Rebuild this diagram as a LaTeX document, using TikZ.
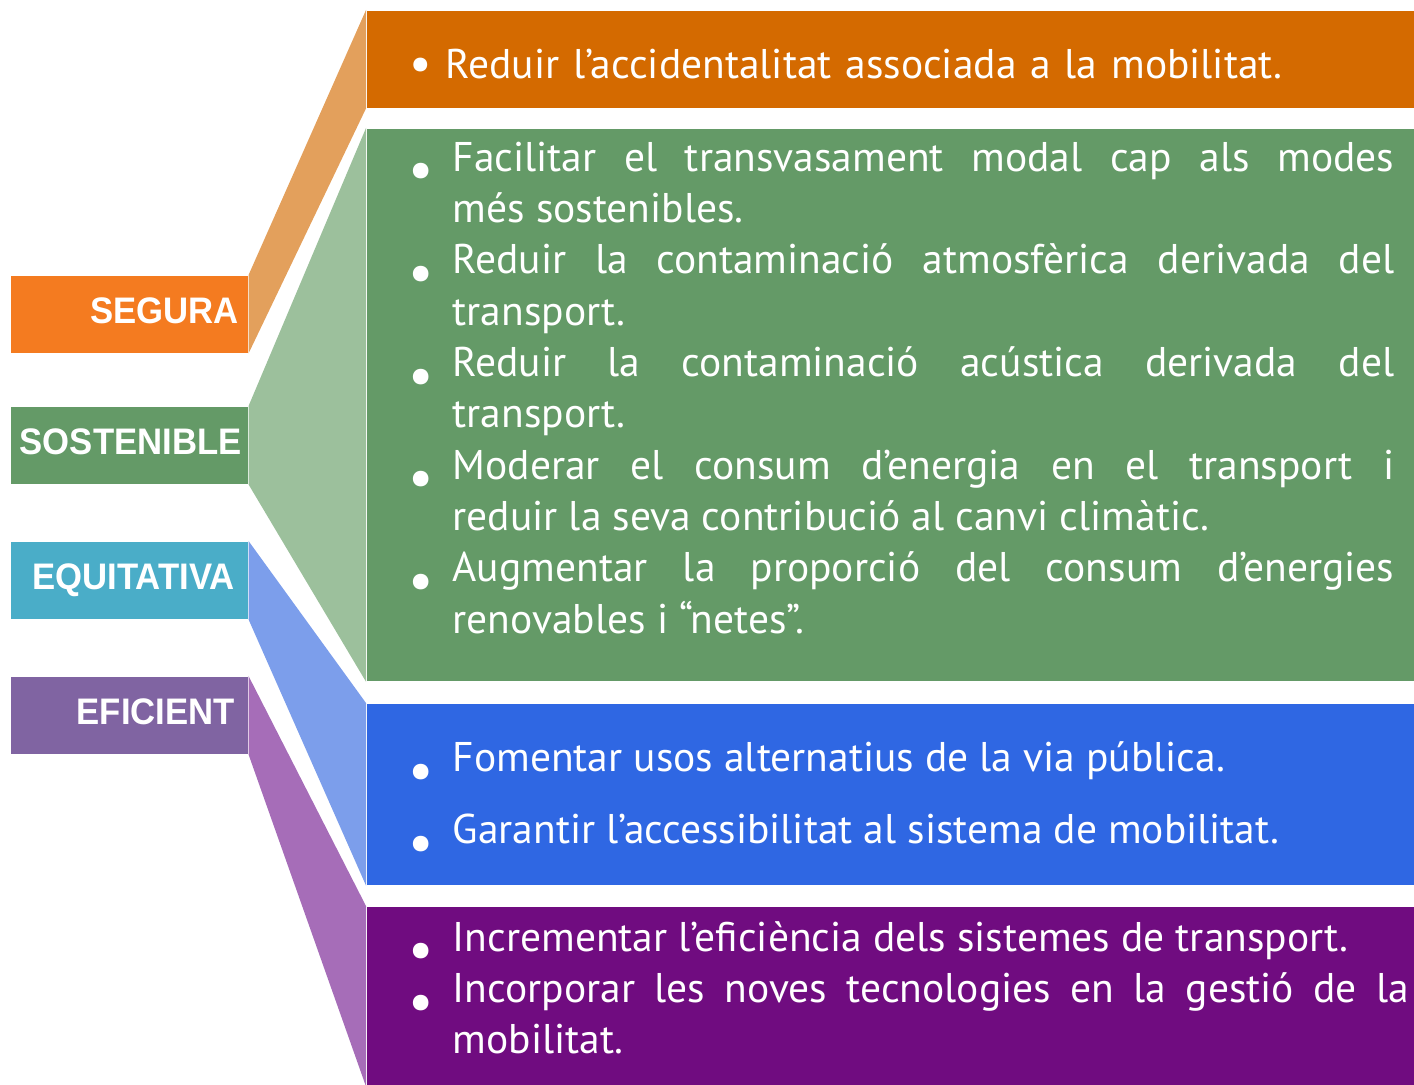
\documentclass[tikz,border=0pt]{standalone}
\usepackage{fontspec}
\setmainfont{PT Sans}
\newfontfamily\lblfont{Liberation Sans}[FakeStretch=0.94]
\usetikzlibrary{positioning}

\definecolor{segLbl}{HTML}{F47B20}
\definecolor{segBox}{HTML}{D46A00}
\definecolor{segCon}{HTML}{E3A05C}
\definecolor{sosLbl}{HTML}{649A67}
\definecolor{sosBox}{HTML}{649A67}
\definecolor{sosCon}{HTML}{9CC09C}
\definecolor{equLbl}{HTML}{4AADC8}
\definecolor{equBox}{HTML}{2F67E3}
\definecolor{equCon}{HTML}{7C9EEB}
\definecolor{efiLbl}{HTML}{8064A2}
\definecolor{efiBox}{HTML}{700C80}
\definecolor{efiCon}{HTML}{A66DB8}

% bullet hanging to the left of the text column
\newcommand{\itm}{\par\noindent\llap{\raisebox{-0.85ex}{\scalebox{1.35}{\textbullet}}\hspace{0.19cm}}}
\newcommand{\itmc}{\par\noindent\llap{\raisebox{-0.1ex}{\scalebox{1.2}{\textbullet}}\hspace{0.14cm}}}

\begin{document}
\begin{tikzpicture}[x=0.01cm, y=-0.01cm,
    lbl/.style={rectangle, anchor=north west, minimum width=2.37cm, minimum height=0.77cm,
                inner xsep=0.09cm, text width=2.19cm, align=right, text=white, text depth=0.08cm,
                font=\lblfont\bfseries\fontsize{10.5}{12}\selectfont},
    box/.style={rectangle, anchor=north west, minimum width=10.48cm, inner sep=0pt},
    txt/.style={anchor=north west, inner sep=0pt, text=white, align=justify,
                font=\fontsize{11.8}{14.6}\selectfont}]
  \useasboundingbox (0,0) rectangle (1414,1085);

  % labels on the left
  \node[lbl, fill=segLbl] (lbl_seg) at (10,275) {SEGURA};
  \node[lbl, fill=sosLbl] (lbl_sos) at (10,406) {SOSTENIBLE};
  \node[lbl, fill=equLbl, text width=2.11cm] (lbl_equ) at (10,541) {EQUITATIVA};
  \node[lbl, fill=efiLbl, text width=2.11cm] (lbl_efi) at (10,676) {EFICIENT};

  % boxes on the right
  \node[box, fill=segBox, minimum height=0.97cm] (box_seg) at (366,10)  {};
  \node[box, fill=sosBox, minimum height=5.52cm] (box_sos) at (366,128) {};
  \node[box, fill=equBox, minimum height=1.81cm] (box_equ) at (366,703) {};
  \node[box, fill=efiBox, minimum height=1.79cm] (box_efi) at (366,906) {};

  % connectors
  \fill[segCon] (lbl_seg.north east) -- (box_seg.north west) -- (box_seg.south west) -- (lbl_seg.south east) -- cycle;
  \fill[sosCon] (lbl_sos.north east) -- (box_sos.north west) -- (box_sos.south west) -- (lbl_sos.south east) -- cycle;
  \fill[equCon] (lbl_equ.north east) -- (box_equ.north west) -- (box_equ.south west) -- (lbl_equ.south east) -- cycle;
  \fill[efiCon] (lbl_efi.north east) -- (box_efi.north west) -- (box_efi.south west) -- (lbl_efi.south east) -- cycle;

  % texts
  \node[txt, text width=9.5cm, align=left] (txt_seg) at (445,26)
    {\itmc Reduir l’accidentalitat associada a la mobilitat.};
  \node[txt, text width=9.41cm] (txt_sos) at (452,119)
    {\itm Facilitar el transvasament modal cap als modes\linebreak més sostenibles.
     \itm Reduir la contaminació atmosfèrica derivada del\linebreak transport.
     \itm Reduir la contaminació acústica derivada del\linebreak transport.
     \itm Moderar el consum d’energia en el transport i\linebreak reduir la seva contribució al canvi climàtic.
     \itm Augmentar la proporció del consum d’energies\linebreak renovables i “netes”.};
  \node[txt, text width=9.41cm, font=\fontsize{11.8}{20.5}\selectfont] (txt_equ) at (452,699)
    {\itm Fomentar usos alternatius de la via pública.
     \itm Garantir l’accessibilitat al sistema de mobilitat.};
  \node[txt, text width=9.56cm] (txt_efi) at (452,899)
    {\itm Incrementar l’eficiència dels sistemes de transport.
     \itm Incorporar les noves tecnologies en la gestió de la\linebreak mobilitat.};
\end{tikzpicture}
\end{document}
